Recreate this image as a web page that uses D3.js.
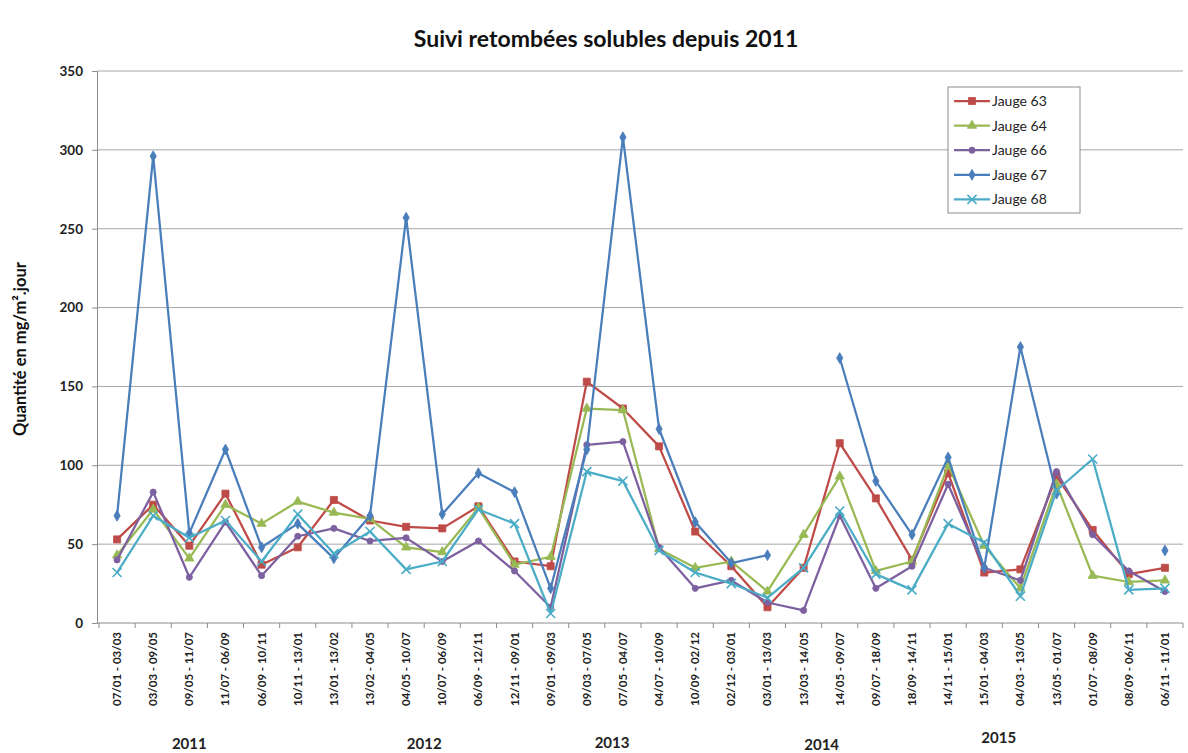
<!DOCTYPE html>
<html>
<head>
<meta charset="utf-8">
<script src="https://cdn.jsdelivr.net/npm/d3@7"></script>
<style>
  body { margin: 0; background: #fff; }
  svg { font-family: Lato, "Open Sans", sans-serif; }
</style>
</head>
<body>
<div class="graph"></div>
<script>
// periods of measurement (x categories)
const periods = [
  "07/01 - 03/03", "03/03 - 09/05", "09/05 - 11/07", "11/07 - 06/09", "06/09 - 10/11",
  "10/11 - 13/01", "13/01 - 13/02", "13/02 - 04/05", "04/05 - 10/07", "10/07 - 06/09",
  "06/09 - 12/11", "12/11 - 09/01", "09/01 - 09/03", "09/03 - 07/05", "07/05 - 04/07",
  "04/07 - 10/09", "10/09 - 02/12", "02/12 - 03/01", "03/01 - 13/03", "13/03 - 14/05",
  "14/05 - 09/07", "09/07 - 18/09", "18/09 - 14/11", "14/11 - 15/01", "15/01 - 04/03",
  "04/03 - 13/05", "13/05 - 01/07", "01/07 - 08/09", "08/09 - 06/11", "06/11 - 11/01"
];

const jauge63 = [53, 75, 49, 82, 37, 48, 78, 65, 61, 60, 74, 39, 36, 153, 136, 112, 58, 36, 10, 35, 114, 79, 40, 95, 32, 34, 93, 59, 31, 35];
const jauge64 = [43, 72, 41, 75, 63, 77, 70, 66, 48, 45, 73, 37, 42, 136, 135, 47, 35, 39, 20, 56, 93, 33, 39, 100, 49, 22, 88, 30, 26, 27];
const jauge66 = [40, 83, 29, 64, 30, 55, 60, 52, 54, 39, 52, 33, 10, 113, 115, 48, 22, 27, 13, 8, 68, 22, 36, 88, 35, 27, 96, 56, 33, 20];
const jauge67 = [68, 296, 57, 110, 48, 63, 41, 68, 257, 69, 95, 83, 22, 110, 308, 123, 64, 38, 43, null, 168, 90, 56, 105, 35, 175, 82, null, null, 46];
const jauge68 = [32, 68, 54, 65, 39, 69, 44, 58, 34, 39, 72, 63, 6, 96, 90, 46, 32, 25, 16, 35, 71, 31, 21, 63, 51, 17, 84, 104, 21, 22];

const yTicks = [0, 50, 100, 150, 200, 250, 300, 350];

// year captions and the category index they sit under
const years = ["2011", "2012", "2013", "2014", "2015"];
const yearAt = [2, 8.5, 13.7, 19.5, 24.4];

const series = [
  { name: "Jauge 63", values: jauge63, color: "#BE4B48", shape: "square" },
  { name: "Jauge 64", values: jauge64, color: "#98B954", shape: "triangle" },
  { name: "Jauge 66", values: jauge66, color: "#7D60A0", shape: "circle" },
  { name: "Jauge 67", values: jauge67, color: "#4A7EBB", shape: "diamond" },
  { name: "Jauge 68", values: jauge68, color: "#4BACC6", shape: "x" }
];

const width = 1188, height = 753;
const plotL = 99, plotR = 1183, plotT = 71, plotB = 623;

const svg = d3.select(".graph").append("svg")
  .attr("width", width)
  .attr("height", height);

const x = d3.scaleBand().domain(periods).range([plotL, plotR]).padding(0);
const y = d3.scaleLinear().domain([0, 350]).range([plotB, plotT]);
const cx = d => x(d) + x.bandwidth() / 2;

// gridlines
svg.append("g")
  .selectAll("line")
  .data(yTicks.filter(t => t > 0))
  .enter().append("line")
  .attr("x1", plotL - 2).attr("x2", plotR)
  .attr("y1", d => y(d)).attr("y2", d => y(d))
  .attr("stroke", "#a6a6a6").attr("stroke-width", 1);

// y axis
const yAxis = svg.append("g")
  .attr("transform", "translate(" + (plotL - 2) + ",0)")
  .call(d3.axisLeft(y).tickValues(yTicks).tickSize(5).tickPadding(9));
yAxis.select(".domain").attr("stroke", "#8c8c8c");
yAxis.selectAll(".tick line").attr("stroke", "#8c8c8c");
yAxis.selectAll("text")
  .attr("font-size", 13.5).attr("font-weight", "bold")
  .attr("font-family", "Lato, sans-serif").attr("fill", "#222");

// x axis with ticks on category boundaries
const xAxis = svg.append("g")
  .attr("transform", "translate(0," + plotB + ")");
xAxis.append("line")
  .attr("x1", plotL - 2).attr("x2", plotR)
  .attr("stroke", "#8c8c8c");
xAxis.selectAll(".bnd")
  .data(periods.concat(["end"]))
  .enter().append("line")
  .attr("x1", (d, i) => plotL + i * x.bandwidth())
  .attr("x2", (d, i) => plotL + i * x.bandwidth())
  .attr("y1", 0).attr("y2", 5)
  .attr("stroke", "#8c8c8c");
xAxis.selectAll("text")
  .data(periods)
  .enter().append("text")
  .attr("transform", d => "translate(" + (cx(d) + 4) + ",9) rotate(-90)")
  .attr("text-anchor", "end")
  .attr("font-size", 11.5).attr("font-weight", "bold")
  .attr("fill", "#222")
  .text(d => d);

// year captions
svg.append("g")
  .selectAll("text")
  .data(years)
  .enter().append("text")
  .attr("x", (d, i) => plotL + (yearAt[i] + 0.5) * x.bandwidth())
  .attr("y", (d, i) => [749, 749, 748, 750, 743][i])
  .attr("text-anchor", "middle")
  .attr("font-size", 15).attr("font-weight", "bold")
  .attr("fill", "#222")
  .text(d => d);

// title
svg.append("text")
  .attr("x", 606).attr("y", 47)
  .attr("text-anchor", "middle")
  .attr("font-size", 23).attr("font-weight", "bold")
  .attr("fill", "#111")
  .text("Suivi retombées solubles depuis 2011");

// y axis title
svg.append("text")
  .attr("transform", "translate(26," + 349 + ") rotate(-90)")
  .attr("text-anchor", "middle")
  .attr("font-size", 16.5).attr("font-weight", "bold")
  .attr("fill", "#111")
  .text("Quantité en mg/m².jour");

function marker(sel, s) {
  if (s.shape === "x") {
    sel.attr("d", d3.symbol(d3.symbolX, 55)())
      .attr("fill", "none").attr("stroke", s.color).attr("stroke-width", 1.6);
  } else {
    const types = { square: d3.symbolSquare, triangle: d3.symbolTriangle, circle: d3.symbolCircle, diamond: d3.symbolDiamond };
    const sizes = { square: 50, triangle: 38, circle: 30, diamond: 34 };
    sel.attr("d", d3.symbol(types[s.shape], sizes[s.shape])())
      .attr("fill", s.color).attr("stroke", s.color).attr("stroke-width", 0.8);
  }
}

const line = d3.line()
  .defined(d => d.v !== null)
  .x(d => cx(d.p))
  .y(d => y(d.v));

series.forEach(s => {
  const pts = s.values.map((v, i) => ({ p: periods[i], v: v }));
  const g = svg.append("g");
  g.append("path")
    .datum(pts)
    .attr("d", line)
    .attr("fill", "none")
    .attr("stroke", s.color)
    .attr("stroke-width", 2.25)
    .attr("stroke-linejoin", "round");
  g.selectAll(".m")
    .data(pts.filter(d => d.v !== null))
    .enter().append("path")
    .attr("transform", d => "translate(" + cx(d.p) + "," + y(d.v) + ")")
    .call(marker, s);
});

// legend
const lg = svg.append("g").attr("transform", "translate(948,87)");
lg.append("rect")
  .attr("width", 132).attr("height", 126)
  .attr("fill", "#fff").attr("stroke", "#8c8c8c");
series.forEach((s, i) => {
  const row = lg.append("g").attr("transform", "translate(0," + (14 + i * 24.6) + ")");
  row.append("line")
    .attr("x1", 6).attr("x2", 42)
    .attr("stroke", s.color).attr("stroke-width", 2.25);
  row.append("path")
    .attr("transform", "translate(24,0)")
    .call(marker, s);
  row.append("text")
    .attr("x", 44).attr("y", 5)
    .attr("font-size", 14).attr("fill", "#222")
    .text(s.name);
});
</script>
</body>
</html>
